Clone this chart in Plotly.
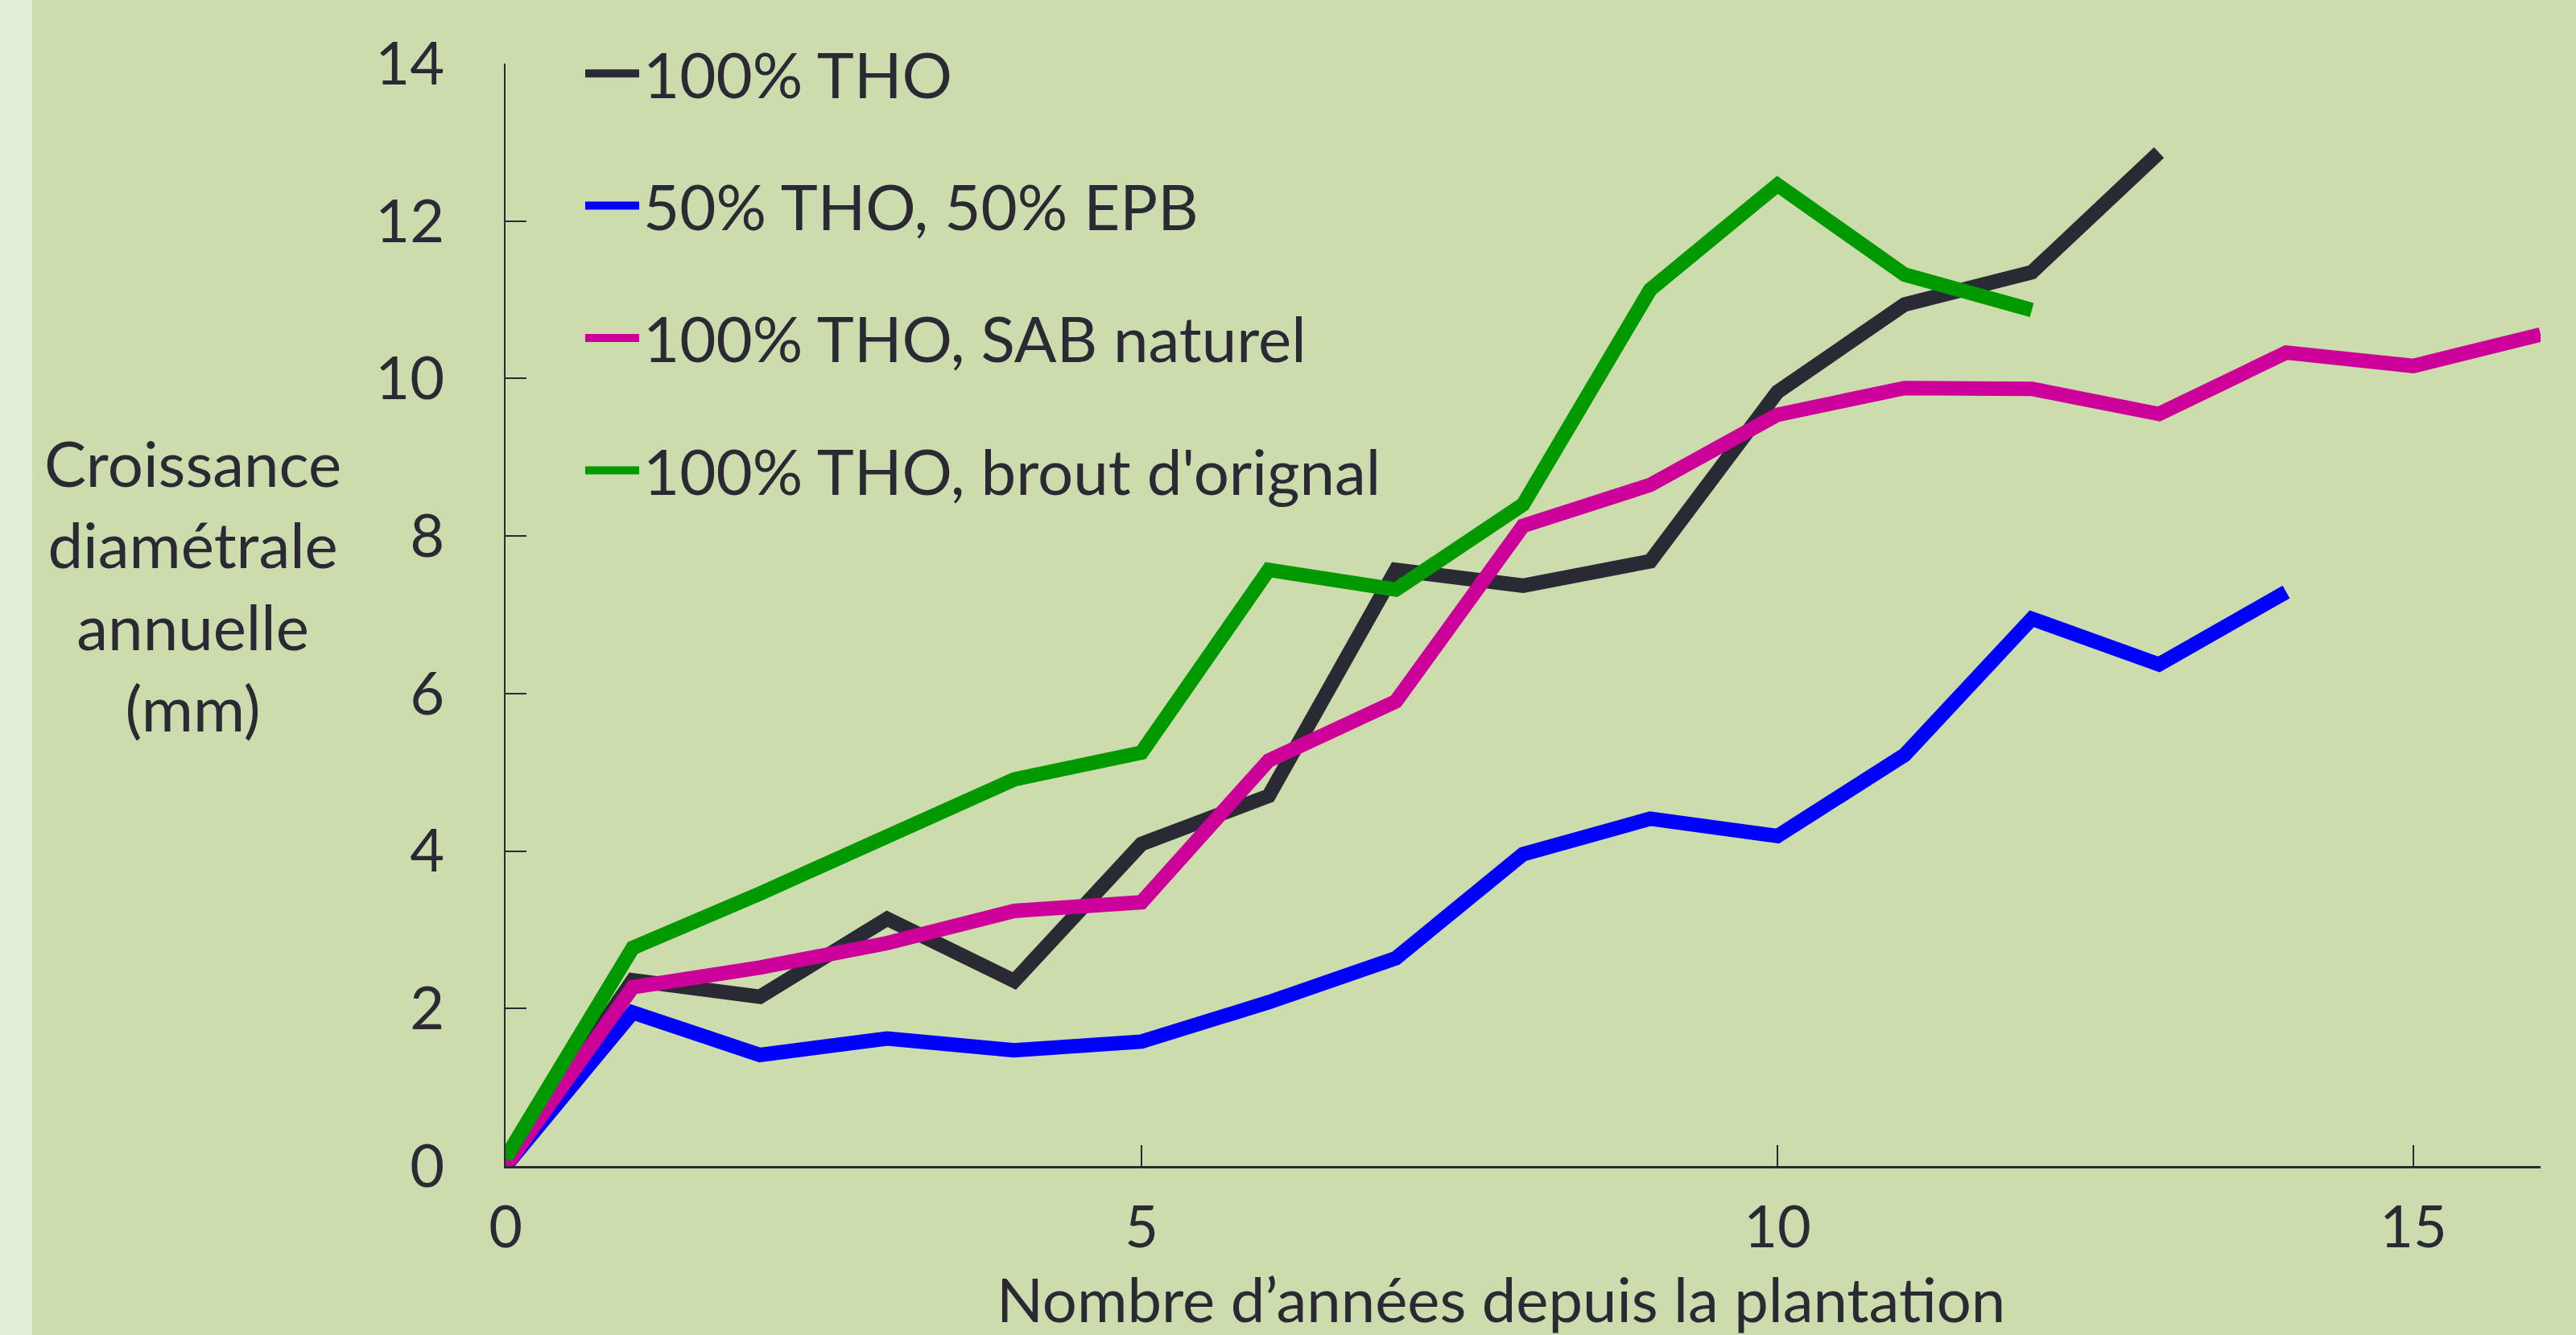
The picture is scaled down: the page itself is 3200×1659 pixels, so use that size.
import plotly.graph_objects as go

# Data
years_tho = list(range(0, 14))
tho_100 = [0.0, 2.36, 2.15, 3.14, 2.35, 4.09, 4.70, 7.57, 7.37, 7.68, 9.83, 10.94, 11.35, 12.87]

years_epb = list(range(0, 15))
tho_50_epb_50 = [0.0, 1.95, 1.41, 1.62, 1.47, 1.58, 2.08, 2.64, 3.96, 4.41, 4.19, 5.22, 6.95, 6.37, 7.29]

years_sab = list(range(0, 17))
tho_sab = [0.0, 2.27, 2.52, 2.83, 3.24, 3.35, 5.15, 5.90, 8.13, 8.65, 9.54, 9.88, 9.87, 9.55, 10.33, 10.16, 10.56]

years_brout = list(range(0, 13))
tho_brout = [0.1, 2.77, 3.46, 4.16, 4.91, 5.25, 7.57, 7.32, 8.40, 11.13, 12.46, 11.32, 10.87]

series_names = ["100% THO", "50% THO, 50% EPB", "100% THO, SAB naturel", "100% THO, brout d'orignal"]
series_colors = ["#2A2A35", "#0000FF", "#CC0099", "#009900"]

x_ticks = [0, 5, 10, 15]
y_ticks = [0, 2, 4, 6, 8, 10, 12, 14]

x_title = "Nombre d\u2019années depuis la plantation"
y_title = "Croissance<br>diamétrale<br>annuelle<br>(mm)"

BG = "#CDDCAC"
STRIP = "#E1EDD5"
INK = "#2A2A35"
FONT = "Lato"
FS_TICK = 74
FS_TEXT = 78

W, H = 3200, 1659
L, R, T, B = 628, 44, 79, 210
pw, ph = W - L - R, H - T - B

fig = go.Figure()
for i, (xs, ys) in enumerate([(years_tho, tho_100), (years_epb, tho_50_epb_50),
                              (years_sab, tho_sab), (years_brout, tho_brout)]):
    fig.add_trace(go.Scatter(
        x=xs, y=ys, mode="lines", name=series_names[i],
        legendgroup=f"g{i}",
        line=dict(color=series_colors[i], width=18),
    ))

fig.update_layout(
    width=W, height=H,
    margin=dict(l=L, r=R, t=T, b=B, autoexpand=False),
    paper_bgcolor=BG, plot_bgcolor=BG,
    font=dict(family=FONT, size=FS_TICK, color=INK),
    showlegend=True,
    legend=dict(
        x=(722 - L) / pw, y=(H - B - 34) / ph,
        xanchor="left", yanchor="top",
        bgcolor="rgba(0,0,0,0)",
        font=dict(family=FONT, size=FS_TEXT, color=INK),
        tracegroupgap=60,
        itemwidth=67,
    ),
    xaxis=dict(
        range=[0, 16], tickvals=x_ticks, ticktext=[str(v) for v in x_ticks],
        showgrid=False, zeroline=False,
        showline=True, linecolor=INK, linewidth=3,
        ticks="inside", ticklen=26, tickwidth=2, tickcolor=INK,
        ticklabelstandoff=12,
        tickfont=dict(family=FONT, size=72, color=INK),
    ),
    yaxis=dict(
        range=[0, 14], tickvals=y_ticks, ticktext=[str(v) for v in y_ticks],
        showgrid=False, zeroline=False,
        showline=True, linecolor=INK, linewidth=2,
        ticks="inside", ticklen=26, tickwidth=2, tickcolor=INK,
        ticklabelstandoff=59,
    ),
    annotations=[
        dict(
            text=y_title, xref="paper", yref="paper",
            x=(239 - L) / pw, y=(H - B - 727) / ph,
            xanchor="center", yanchor="middle", align="center",
            showarrow=False, font=dict(family=FONT, size=FS_TEXT, color=INK),
        ),
        dict(
            text=x_title, xref="paper", yref="paper",
            x=(1864 - L) / pw, y=(H - B - 1613) / ph,
            xanchor="center", yanchor="middle", align="center",
            showarrow=False, font=dict(family=FONT, size=76, color=INK),
        ),
    ],
    shapes=[dict(
        type="rect", xref="paper", yref="paper", layer="below",
        x0=(0 - L) / pw, x1=(40 - L) / pw, y0=(H - B - H) / ph, y1=(H - B) / ph,
        fillcolor=STRIP, line=dict(width=0),
    )],
)

fig.write_html(
    "out.html",
    config={"displayModeBar": False},
    post_script="document.body.style.margin='0';document.body.style.overflow='hidden';",
)
